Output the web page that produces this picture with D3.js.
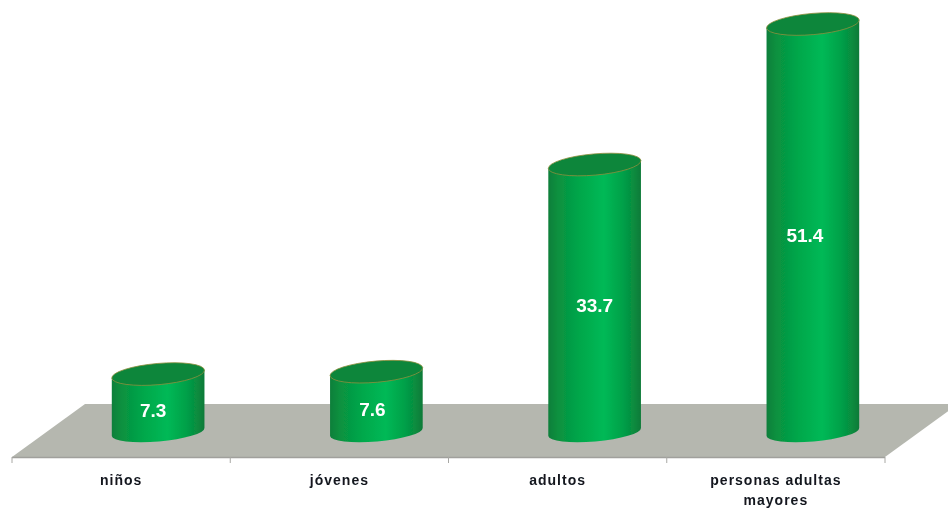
<!DOCTYPE html>
<html><head><meta charset="utf-8">
<script src="https://cdn.jsdelivr.net/npm/d3@7"></script>
<style>html,body{margin:0;padding:0;background:#fff}svg{display:block}text{font-family:"Liberation Sans",Arial,sans-serif;font-weight:bold}</style>
</head><body><svg id="c" width="948" height="508"></svg>
<script>
const categories = ["niños","jóvenes","adultos","personas adultas mayores"];
const values = [7.3,7.6,33.7,51.4];
const labelNudgeX = [-5,-4,0,-8];

const svg = d3.select("#c");
const defs = svg.append("defs");
const blur = defs.append("filter").attr("id","soft").attr("filterUnits","userSpaceOnUse")
  .attr("x",0).attr("y",0).attr("width",948).attr("height",508);
blur.append("feGaussianBlur").attr("stdDeviation",0.75);
const g = defs.append("linearGradient").attr("id","cyl");
[[0,"#0b7f3a"],[0.1,"#08903f"],[0.35,"#03a84b"],[0.6,"#00b956"],[0.8,"#03a149"],[0.93,"#088a3e"],[1,"#0b7a38"]]
  .forEach(([o,c])=>g.append("stop").attr("offset",o).attr("stop-color",c));

const x = d3.scaleBand().domain(categories).range([12,885]);
const y = d3.scaleLinear().domain([0,51.4]).range([432,24]);
const depthX = 37, rx = 46.5, ry = 10.6, baseRy = 9.5, tilt = -5;
const floorFront = 457, floorBack = 404, floorShift = 73;

const root = svg.append("g").attr("filter","url(#soft)");
root.append("path")
  .attr("d",`M${x.range()[0]},${floorFront}L${x.range()[1]},${floorFront}L${x.range()[1]+floorShift},${floorBack}L${x.range()[0]+floorShift},${floorBack}Z`)
  .attr("fill","#b5b7af");
root.append("line").attr("x1",x.range()[0]).attr("x2",x.range()[1]).attr("y1",floorFront+0.5).attr("y2",floorFront+0.5).attr("stroke","#a0a09c").attr("stroke-width",1.5);
const tickXs = categories.map(c=>x(c)).concat(x.range()[1]);
root.selectAll("line.t").data(tickXs).join("line").attr("class","t")
  .attr("x1",d=>d).attr("x2",d=>d).attr("y1",floorFront).attr("y2",floorFront+6).attr("stroke","#a8a8a4");

const rad = tilt*Math.PI/180;
const ex = rx*Math.cos(rad), ey = rx*Math.sin(rad);
const bars = root.selectAll("g.b").data(categories.map((c,i)=>({c,v:values[i],n:labelNudgeX[i]}))).join("g").attr("class","b")
  .attr("transform",d=>`translate(${x(d.c)+x.bandwidth()/2+depthX},0)`);
bars.append("path").attr("fill","url(#cyl)")
  .attr("d",d=>`M${-ex},${y(d.v)-ey}L${-ex},${y(0)-ey}A${rx},${baseRy} ${tilt} 0 0 ${ex},${y(0)+ey}L${ex},${y(d.v)+ey}Z`);
bars.append("ellipse").attr("rx",rx).attr("ry",ry).attr("fill","#08863b").attr("stroke","#8c8f3c").attr("stroke-width",0.8)
  .attr("transform",d=>`translate(0,${y(d.v)}) rotate(${tilt})`);
bars.append("text").attr("x",d=>d.n).attr("y",d=>(y(d.v)+y(0))/2+14)
  .attr("text-anchor","middle").attr("fill","#fff").attr("font-size",19).text(d=>d.v.toFixed(1));

const labels = root.selectAll("text.l").data(categories).join("text").attr("class","l")
  .attr("text-anchor","middle").attr("fill","#12161f").attr("font-size",14).attr("letter-spacing",1)
  .attr("transform",d=>`translate(${x(d)+x.bandwidth()/2},485)`);
labels.each(function(d){
  const lines = d.length>20 ? ["personas adultas","mayores"] : [d];
  d3.select(this).selectAll("tspan").data(lines).join("tspan").attr("x",0).attr("dy",(l,i)=>i?20:0).text(l=>l);
});
</script></body></html>
